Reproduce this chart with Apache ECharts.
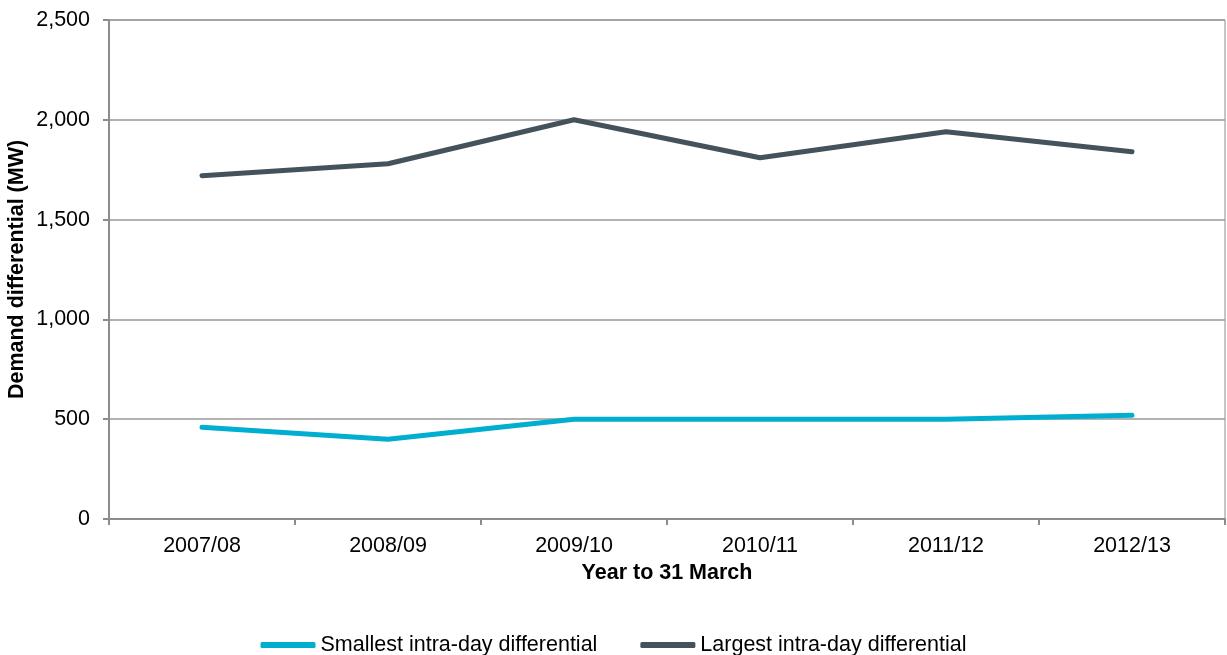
<!DOCTYPE html>
<html>
<head>
<meta charset="utf-8">
<script src="https://cdn.jsdelivr.net/npm/echarts@6/dist/echarts.min.js"></script>
<style>
  html, body { margin: 0; padding: 0; background: #fff; }
  #chart { width: 1227px; height: 655px; }
</style>
</head>
<body>
<div id="chart"></div>
<script>
// Financial years on the category axis
const years = ['2007/08', '2008/09', '2009/10', '2010/11', '2011/12', '2012/13'];

// Intra-day demand differential, MW
const smallestDiff = [460, 400, 500, 500, 500, 520];
const largestDiff = [1720, 1780, 2000, 1810, 1940, 1840];

// Value-axis range
const yMin = 0;
const yMax = 2500;
const yStep = 500;

const FONT = '"Liberation Sans", Arial, sans-serif';
const AXIS_GREY = '#8c8c8c';
const FS = 21.5;

const chart = echarts.init(document.getElementById('chart'));

chart.setOption({
  animation: false,
  textStyle: { fontFamily: FONT, color: '#000' },
  grid: {
    left: 109, right: 2, top: 20, bottom: 136,
    containLabel: false,
    outerBoundsMode: 'none',
    show: true, borderColor: AXIS_GREY, borderWidth: 1
  },
  xAxis: {
    type: 'category',
    data: years,
    boundaryGap: true,
    name: 'Year to 31 March',
    nameLocation: 'middle',
    nameGap: 43,
    nameMoveOverlap: false,
    nameTextStyle: { fontFamily: FONT, fontWeight: 'bold', fontSize: FS, color: '#000' },
    axisLine: { lineStyle: { color: AXIS_GREY, width: 2 } },
    axisTick: { show: true, length: 6, alignWithLabel: false, lineStyle: { color: AXIS_GREY, width: 2 } },
    axisLabel: { fontFamily: FONT, fontSize: FS, color: '#000', margin: 16 },
    splitLine: { show: false }
  },
  yAxis: {
    type: 'value',
    min: yMin,
    max: yMax,
    interval: yStep,
    name: 'Demand differential (MW)',
    nameLocation: 'middle',
    nameRotate: 90,
    nameGap: 81,
    nameMoveOverlap: false,
    nameTextStyle: { fontFamily: FONT, fontWeight: 'bold', fontSize: FS, color: '#000' },
    axisLine: { show: true, lineStyle: { color: AXIS_GREY, width: 2 } },
    axisTick: { show: true, length: 6, lineStyle: { color: AXIS_GREY, width: 2 } },
    axisLabel: {
      fontFamily: FONT, fontSize: FS, color: '#000', margin: 19,
      formatter: v => v.toLocaleString('en-US')
    },
    splitLine: { show: true, lineStyle: { color: '#999999', width: 1.5 } }
  },
  legend: {
    top: 629,
    left: 'center',
    itemWidth: 55,
    itemHeight: 6,
    itemGap: 43,
    icon: 'roundRect',
    textStyle: { fontFamily: FONT, fontSize: FS, color: '#000' },
    data: ['Smallest intra-day differential', 'Largest intra-day differential']
  },
  series: [
    {
      name: 'Smallest intra-day differential',
      type: 'line',
      data: smallestDiff,
      showSymbol: false,
      symbol: 'none',
      lineStyle: { color: '#00AECF', width: 5, cap: 'round', join: 'round' },
      itemStyle: { color: '#00AECF' }
    },
    {
      name: 'Largest intra-day differential',
      type: 'line',
      data: largestDiff,
      showSymbol: false,
      symbol: 'none',
      lineStyle: { color: '#44525C', width: 5, cap: 'round', join: 'round' },
      itemStyle: { color: '#44525C' }
    }
  ]
});
</script>
</body>
</html>
